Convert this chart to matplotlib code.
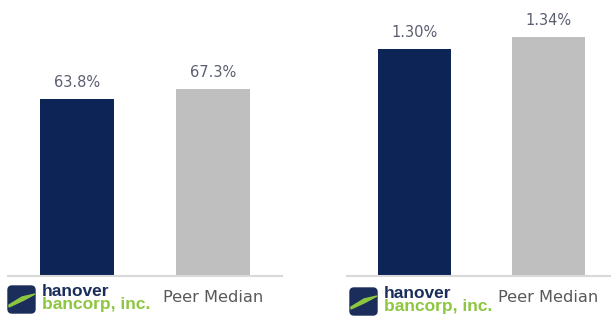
import matplotlib
matplotlib.use('Agg')
import matplotlib.pyplot as plt
from matplotlib.patches import FancyBboxPatch, Polygon

# dados dos dois paineis
categorias = ['hanover', 'Peer Median']
eficiencia = [63.8, 67.3]
rotulos_eficiencia = ['63.8%', '67.3%']
roa = [1.30, 1.34]
rotulos_roa = ['1.30%', '1.34%']

cores = ['#0c2456', '#bfbfbf']
W, H = 611, 316
fig = plt.figure(figsize=(W / 100, H / 100), dpi=100)
fig.patch.set_facecolor('white')


def painel(x0, x1, valores, rotulos, xlim, ylim):
    ax = fig.add_axes([x0 / W, 40 / H, (x1 - x0) / W, 276 / H])
    ax.bar(range(len(valores)), valores, width=0.545, color=cores)
    ax.set_xlim(*xlim)
    ax.set_ylim(*ylim)
    for s in ['top', 'right', 'left']:
        ax.spines[s].set_visible(False)
    ax.spines['bottom'].set_color('#d9d9d9')
    ax.spines['bottom'].set_linewidth(1.5)
    ax.set_xticks([])
    ax.set_yticks([])
    ax.patch.set_alpha(0)
    for i, v in enumerate(valores):
        ax.annotate(rotulos[i], (i, v), xytext=(0, 11.5), textcoords='offset points',
                    ha='center', va='center', fontsize=10.5, color='#5a5f70')
    return ax


painel(8, 282, eficiencia, rotulos_eficiencia, (-0.507, 1.507), (0, 99.3))
painel(347, 610, roa, rotulos_roa, (-0.504, 1.459), (0.543, 1.463))


def logo(x, y):
    # y = topo do icone em pixels
    ax = fig.add_axes([0, 0, 1, 1])
    ax.set_xlim(0, W)
    ax.set_ylim(H, 0)
    ax.axis('off')
    ax.add_patch(FancyBboxPatch((x + 2, y + 2), 23, 23, boxstyle='round,pad=2,rounding_size=4',
                                color='#1b2d5a'))
    ax.add_patch(Polygon([(x + 1, y + 19), (x + 14, y + 11), (x + 27, y + 8),
                          (x + 16, y + 14), (x + 1, y + 21)], color='#8dc63f'))
    ax.text(x + 34, y + 5, 'hanover', fontsize=12.5, fontweight='bold', color='#1b2d5a',
            family='Liberation Sans', va='center', ha='left')
    ax.text(x + 34, y + 19, 'bancorp, inc.', fontsize=12.5, fontweight='bold', color='#8dc63f',
            family='Liberation Sans', va='center', ha='left')


logo(8, 286)
logo(350, 288)
fig.text(213 / W, 1 - 298 / H, 'Peer Median', ha='center', va='center', fontsize=11.7, color='#595959')
fig.text(548 / W, 1 - 297 / H, 'Peer Median', ha='center', va='center', fontsize=11.7, color='#595959')

plt.savefig('out.png', dpi=100)
